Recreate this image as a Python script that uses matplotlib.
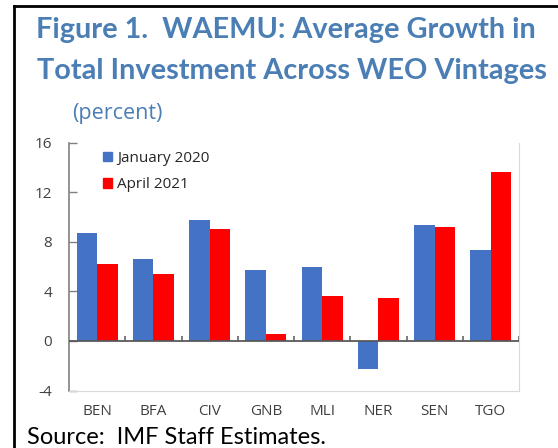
import matplotlib
matplotlib.use("Agg")
import matplotlib.pyplot as plt
from matplotlib.lines import Line2D
from matplotlib.patches import Patch
import numpy as np

categories = ["BEN", "BFA", "CIV", "GNB", "MLI", "NER", "SEN", "TGO"]
jan2020 = [8.7, 6.6, 9.8, 5.7, 5.95, -2.25, 9.35, 7.35]
apr2021 = [6.2, 5.4, 9.05, 0.6, 3.65, 3.45, 9.2, 13.6]
series_names = ["January 2020", "April 2021"]
yticks = [-4, 0, 4, 8, 12, 16]

W, H = 558, 448
fig = plt.figure(figsize=(W / 100, H / 100), dpi=100)
fig.patch.set_facecolor("white")

def fx(px):
    return px / W

def fy(py):
    return 1 - py / H

ax = fig.add_axes([fx(69), fy(390.5), fx(519) - fx(69), fy(142.7) - fy(390.5)])

x = np.arange(len(categories))
bw = 0.365
blue = "#4472C4"
red = "#FF0000"
ax.bar(x - bw / 2, jan2020, bw, color=blue, label=series_names[0], zorder=2)
ax.bar(x + bw / 2, apr2021, bw, color=red, label=series_names[1], zorder=2)

ax.set_xlim(-0.5, len(categories) - 0.5)
ax.set_ylim(-4, 16)
ax.set_yticks(yticks)
ax.set_yticklabels([str(t) for t in yticks])
ax.set_xticks(x)
ax.set_xticklabels(categories)

for lab in ax.get_yticklabels() + ax.get_xticklabels():
    lab.set_fontfamily("Open Sans")
    lab.set_fontsize(11)
    lab.set_color("#404040")

ax.tick_params(axis="y", direction="in", length=6, width=1, color="#808080", pad=12)
ax.tick_params(axis="x", length=0, pad=10)

ax.spines["left"].set_color("#808080")
ax.spines["left"].set_linewidth(1.2)
ax.spines["bottom"].set_color("#D9D9D9")
ax.spines["right"].set_color("#D9D9D9")
ax.spines["top"].set_visible(False)

# zero line with category-boundary ticks
ax.axhline(0, color="#595959", lw=1.3, zorder=3)
bounds = np.arange(0.5, len(categories), 1.0)
ax.vlines(bounds, 0, 0.4, color="#595959", lw=1.1, zorder=3)

handles = [Patch(color=blue), Patch(color=red)]
leg = fig.legend(handles, series_names, loc="upper left",
                 bbox_to_anchor=(fx(103), fy(151)), bbox_transform=fig.transFigure,
                 frameon=False, borderpad=0, borderaxespad=0,
                 handlelength=0.6, handleheight=0.6, handletextpad=0.3,
                 labelspacing=0.75, prop=dict(family="Open Sans", size=11))
for t in leg.get_texts():
    t.set_color("#262626")

title_color = "#4A7EB5"
fig.text(fx(286), fy(30), "Figure 1.  WAEMU: Average Growth in", ha="center", va="center",
         fontsize=20.8, fontweight="bold", family="Lato", color=title_color)
fig.text(fx(292), fy(71), "Total Investment Across WEO Vintages", ha="center", va="center",
         fontsize=20.8, fontweight="bold", family="Lato", color=title_color)
fig.text(fx(72), fy(114), "(percent)", ha="left", va="center",
         fontsize=15.5, family="Open Sans", color=title_color)

fig.text(fx(27), fy(437), "Source:  IMF Staff Estimates.", ha="left", va="center",
         fontsize=17, family="Lato", color="black")

# frame lines
fig.add_artist(Line2D([fx(13.5), fx(13.5)], [fy(6), 0], transform=fig.transFigure,
                      color="black", lw=2))
fig.add_artist(Line2D([fx(13.5), 1], [fy(6), fy(6)], transform=fig.transFigure,
                      color="black", lw=2))

fig.savefig("out.png", dpi=100)
